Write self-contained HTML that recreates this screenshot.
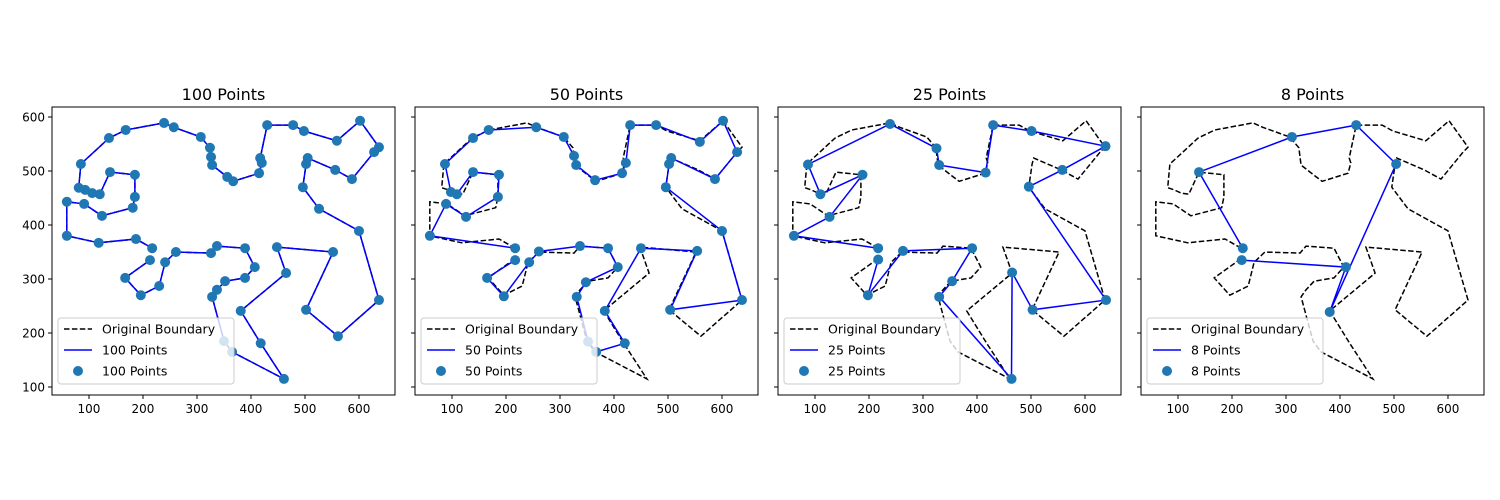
<!DOCTYPE html>
<html><head><meta charset="utf-8"><style>
body{margin:0;background:#fff;}
svg{display:block;font-family:"DejaVu Sans","Liberation Sans",sans-serif;}
</style></head><body>
<svg id="chart" width="1500" height="500"></svg>
<script>
const boundaryX=[217,187,118,59,59,91,124,181,185,185,139,120,106,93,81,85,137,168,239,257,307,324,326,328,356,367,415,420,417,430,478,498,559,602,637,628,587,556,505,502,496,526,600,637,561,502,552,448,465,381,418,461,365,350,328,337,352,389,407,389,337,326,261,241,230,196,167,213];
const boundaryY=[357,374,367,380,443,439,417,432,452,493,498,457,459,465,469,513,561,576,589,581,563,543,526,511,489,481,496,515,524,585,585,574,556,593,544,535,485,502,524,513,470,430,389,261,194,243,350,359,311,241,181,115,165,185,267,280,296,302,322,357,361,348,350,331,287,270,302,335];
const p50X=[217,59,89,126,185,187,139,109,98,87,139,168,256,307,326,330,365,415,422,430,478,559,602,628,587,506,502,496,600,637,504,554,450,383,420,367,352,331,348,407,389,337,261,243,196,165,217];
const p50Y=[357,380,439,415,452,493,498,457,461,513,561,576,581,563,528,511,483,496,515,585,585,554,593,535,485,524,513,470,389,261,243,352,357,241,181,165,184,267,294,322,357,361,351,331,268,302,335];
const p25X=[217,61,127,188,110,87,239,325,330,416,430,501,638,558,496,639,503,465,464,330,354,391,263,198,217];
const p25Y=[357,380,415,493,457,512,587,542,511,497,585,574,546,502,471,261,243,312,115,267,296,357,352,270,336];
const p8X=[220,139,311,430,504,381,411,218];
const p8Y=[357,498,563,585,513,239,322,335];
const panelTitles=["100 Points","50 Points","25 Points","8 Points"];
const panelSeries=[[boundaryX,boundaryY],[p50X,p50Y],[p25X,p25Y],[p8X,p8Y]];
const xTicks=[100,200,300,400,500,600];
const yTicks=[100,200,300,400,500,600];

const NS="http://www.w3.org/2000/svg";
const svg=document.getElementById('chart');
function mk(tag,attrs,parent){const e=document.createElementNS(NS,tag);for(const k in attrs)e.setAttribute(k,attrs[k]);(parent||svg).appendChild(e);return e;}
const W=343,H=288,TOP=107,LEFTS=[52,415,778,1141];
const X0=31.5,X1=666.7,Y0=85.2,Y1=618.5;
function sx(L,v){return L+(v-X0)/(X1-X0)*W;}
function sy(v){return TOP+H-(v-Y0)/(Y1-Y0)*H;}
function pts(L,xs,ys){return xs.map((x,i)=>sx(L,x).toFixed(1)+','+sy(ys[i]).toFixed(1)).join(' ');}

panelTitles.forEach((title,p)=>{
  const L=LEFTS[p];
  const g=mk('g',{});
  
  
  const t=mk('text',{x:L+W/2,y:TOP-7,'text-anchor':'middle','font-size':16,fill:'#000'},g);
  t.textContent=title;
  
  
  const clip=mk('clipPath',{id:'c'+p},g);mk('rect',{x:L,y:TOP,width:W,height:H},clip);
  const plot=mk('g',{'clip-path':'url(#c'+p+')'},g);
  const ob=mk('polyline',{points:pts(L,boundaryX,boundaryY),fill:'none',stroke:'#000','stroke-width':1.5,'stroke-dasharray':'5.5,2.4'},plot);
  
  
  const [xs,ys]=panelSeries[p];
  const sl=mk('polyline',{points:pts(L,xs,ys),fill:'none',stroke:'#0000ff','stroke-width':1.5},plot);
  
  
  xs.forEach((x,i)=>{
    const c=mk('circle',{cx:sx(L,x),cy:sy(ys[i]),r:5,fill:'#1f77b4'},plot);
    
    
  });
  const fr=mk('rect',{x:L,y:TOP,width:W,height:H,fill:'none',stroke:'#000','stroke-width':1},g);
  
  
  xTicks.forEach(v=>{
    const X=sx(L,v);
    mk('line',{x1:X,x2:X,y1:TOP+H,y2:TOP+H+4,stroke:'#000'},g);
    const tl=mk('text',{x:X,y:TOP+H+18,'text-anchor':'middle','font-size':12},g);
    tl.textContent=v;
    
    
  });
  yTicks.forEach(v=>{
    const Y=sy(v);
    mk('line',{x1:L-4,x2:L,y1:Y,y2:Y,stroke:'#000'},g);
    if(p===0){
      const tl=mk('text',{x:L-7,y:Y+4.5,'text-anchor':'end','font-size':12},g);
      tl.textContent=v;
      
      
    }
  });
  const lg=mk('g',{},g);
  
  
  mk('rect',{x:L+6,y:318,width:176,height:66,rx:3,fill:'#fff','fill-opacity':0.8,stroke:'#ccc'},lg);
  mk('line',{x1:L+12,x2:L+40,y1:329,y2:329,stroke:'#000','stroke-width':1.5,'stroke-dasharray':'5.5,2.4'},lg);
  mk('line',{x1:L+12,x2:L+40,y1:350,y2:350,stroke:'#0000ff','stroke-width':1.5},lg);
  mk('circle',{cx:L+26,cy:371,r:5,fill:'#1f77b4'},lg);
  const labels=['Original Boundary',title,title];
  labels.forEach((s,i)=>{
    const tx=mk('text',{x:L+50,y:333.5+i*21,'font-size':12.5},lg);
    tx.textContent=s;
    
    
  });
});
</script>
</body></html>
